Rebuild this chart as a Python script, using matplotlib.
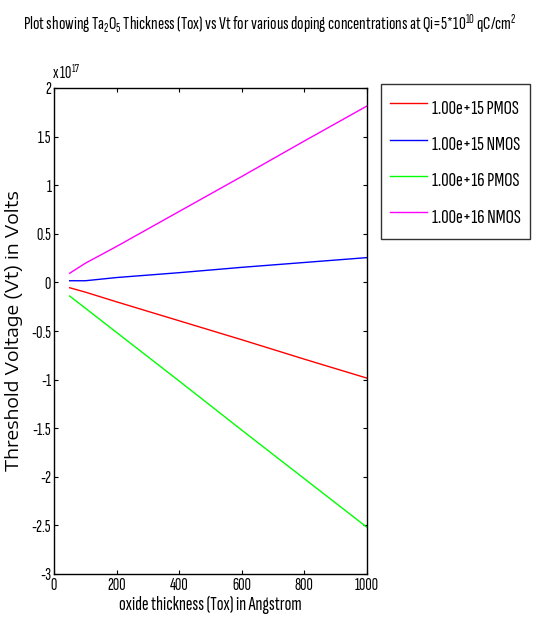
import matplotlib
matplotlib.use("Agg")
import matplotlib.pyplot as plt

# Oxide thickness (Angstrom) and threshold voltages in units of 1e17 V
tox = [50, 100, 200, 400, 600, 800, 1000]
vt_pmos_1e15 = [-0.055, -0.10, -0.20, -0.395, -0.59, -0.79, -0.985]
vt_nmos_1e15 = [0.017, 0.017, 0.05, 0.10, 0.155, 0.205, 0.255]
vt_pmos_1e16 = [-0.14, -0.265, -0.515, -1.015, -1.52, -2.02, -2.52]
vt_nmos_1e16 = [0.094, 0.197, 0.37, 0.73, 1.09, 1.455, 1.815]

series_labels = ["1.00e+15 PMOS", "1.00e+15 NMOS", "1.00e+16 PMOS", "1.00e+16 NMOS"]
series_colors = ["#ff0000", "#0000ff", "#00ff00", "#ff00ff"]

x_ticks = [0, 200, 400, 600, 800, 1000]
y_ticks = [-3, -2.5, -2, -1.5, -1, -0.5, 0, 0.5, 1, 1.5, 2]
y_tick_labels = ["-3", "-2.5", "-2", "-1.5", "-1", "-0.5", "0", "0.5", "1", "1.5", "2"]

title_text = (r"Plot showing Ta$_2$O$_5$ Thickness (Tox) vs Vt for various doping "
              r"concentrations at Qi=5*10$^{10}$ qC/cm$^2$")

NARROW = "Sofia Sans Extra Condensed"
WIDE = ["Encode Sans Expanded", "Liberation Sans", "DejaVu Sans"]
plt.rcParams["font.family"] = [NARROW, "DejaVu Sans"]
plt.rcParams["mathtext.fontset"] = "custom"
plt.rcParams["mathtext.rm"] = NARROW
plt.rcParams["mathtext.it"] = NARROW
plt.rcParams["mathtext.bf"] = NARROW

W, H = 540, 635
fig = plt.figure(figsize=(W / 100, H / 100), dpi=100)
ax = fig.add_axes([54 / W, 1 - 574 / H, (367 - 54) / W, (574 - 88) / H])


def fitted_size(text, width_px, **kw):
    """Font size at which `text` spans `width_px` pixels."""
    t = fig.text(0, 0, text, fontsize=10, **kw)
    fig.canvas.draw()
    ext = t.get_window_extent()
    w = ext.height if kw.get("rotation") == 90 else ext.width
    t.remove()
    return 10 * width_px / w


tick_fs = fitted_size("1000", 24)
leg_fs = fitted_size("1.00e+15 PMOS", 87)
xlab_fs = fitted_size("oxide thickness (Tox) in Angstrom", 182)
title_fs = fitted_size(title_text, 495)
ylab_fs = fitted_size("Threshold Voltage (Vt) in Volts", 280, family=WIDE, rotation=90)

for vals, lab, col in zip([vt_pmos_1e15, vt_nmos_1e15, vt_pmos_1e16, vt_nmos_1e16],
                          series_labels, series_colors):
    ax.plot(tox, vals, color=col, lw=1.0, label=lab)

ax.set_xlim(0, 1000)
ax.set_ylim(-3, 2)
ax.set_xticks(x_ticks)
ax.set_xticklabels([str(t) for t in x_ticks])
ax.set_yticks(y_ticks)
ax.set_yticklabels(y_tick_labels)
ax.tick_params(direction="in", top=True, right=True, length=3, width=0.8,
               labelsize=tick_fs, pad=2)
for sp in ax.spines.values():
    sp.set_linewidth(1.0)

ax.set_xlabel("oxide thickness (Tox) in Angstrom", fontsize=xlab_fs, labelpad=2)
ax.set_ylabel("Threshold Voltage (Vt) in Volts", fontsize=ylab_fs, family=WIDE,
              labelpad=6)

ax.text(-0.005, 1.012, r"x 10$^{17}$", transform=ax.transAxes, fontsize=tick_fs,
        ha="left", va="bottom")

fig.text(0.5, 1 - 24 / H, title_text, ha="center", va="center", fontsize=title_fs)

# legend geometry: about 8 px padding and a 37 px row pitch
fs_px = leg_fs * 100 / 72
leg = ax.legend(loc="upper left", bbox_to_anchor=(381 / W, 1 - 90 / H, 149 / W, 0.01),
                bbox_transform=fig.transFigure, mode="expand", fontsize=leg_fs,
                frameon=True, fancybox=False, handlelength=37 / fs_px,
                handleheight=36 / fs_px, handletextpad=5 / fs_px,
                labelspacing=8 / fs_px, borderpad=9 / fs_px, borderaxespad=0)
leg.get_frame().set_edgecolor("black")
leg.get_frame().set_linewidth(1.0)

fig.savefig("out.png", dpi=100)
